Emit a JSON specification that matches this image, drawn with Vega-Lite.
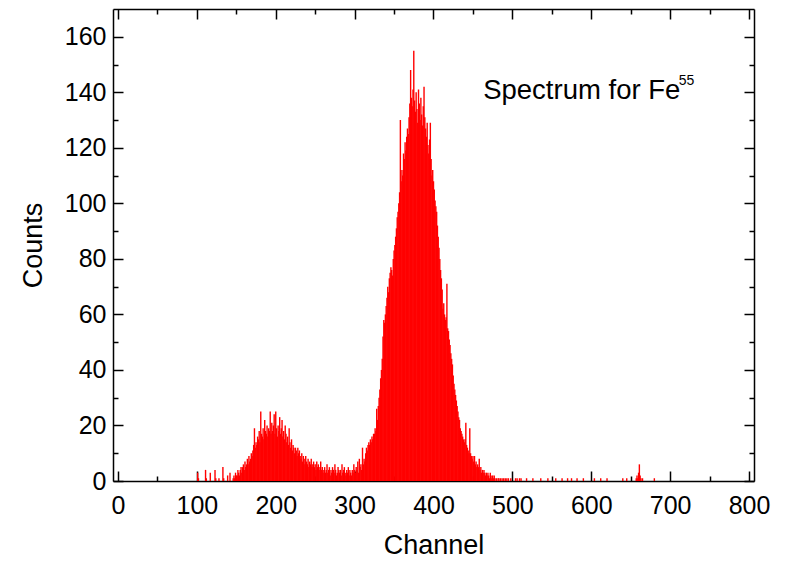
{
  "$schema": "https://vega.github.io/schema/vega-lite/v6.json",
  "width": 641,
  "height": 472,
  "autosize": "none",
  "padding": {"left": 113, "top": 9, "right": 36, "bottom": 83},
  "background": "white",
  "config": {
    "view": {"stroke": null},
    "font": "Liberation Sans",
    "axis": {
      "grid": false,
      "domainColor": "black",
      "domainWidth": 1.5,
      "tickColor": "black",
      "tickWidth": 1.5,
      "labelColor": "black",
      "labelFont": "Liberation Sans",
      "labelFontSize": 25,
      "titleFont": "Liberation Sans",
      "titleFontSize": 27,
      "titleFontWeight": "normal",
      "titleColor": "black"
    }
  },
  "datasets": {
    "spectrum": [
      {"c":101,"n":3},{"c":102,"n":1},{"c":111,"n":4},{"c":112,"n":1},{"c":117,"n":3},{"c":123,"n":4},{"c":124,"n":1},{"c":128,"n":1},{"c":133,"n":5},{"c":134,"n":1},{"c":139,"n":2},{"c":142,"n":3},
      {"c":146,"n":1},{"c":147,"n":2},{"c":148,"n":1},{"c":149,"n":3},{"c":150,"n":2},{"c":151,"n":2},{"c":152,"n":4},{"c":153,"n":3},{"c":154,"n":2},{"c":155,"n":4},{"c":156,"n":5},{"c":157,"n":3},{"c":158,"n":5},{"c":159,"n":6},{"c":160,"n":4},{"c":161,"n":7},{"c":162,"n":5},{"c":163,"n":6},{"c":164,"n":8},{"c":165,"n":6},{"c":166,"n":9},{"c":167,"n":7},{"c":168,"n":8},{"c":169,"n":10},{"c":170,"n":9},
      {"c":171,"n":11},{"c":172,"n":13},{"c":173,"n":19},{"c":174,"n":12},{"c":175,"n":14},{"c":176,"n":13},{"c":177,"n":16},{"c":178,"n":15},{"c":179,"n":18},{"c":180,"n":14},{"c":181,"n":25},{"c":182,"n":17},{"c":183,"n":16},{"c":184,"n":19},{"c":185,"n":15},{"c":186,"n":22},{"c":187,"n":18},{"c":188,"n":17},{"c":189,"n":20},{"c":190,"n":16},{"c":191,"n":19},{"c":192,"n":18},{"c":193,"n":25},{"c":194,"n":17},{"c":195,"n":21},{"c":196,"n":18},{"c":197,"n":20},{"c":198,"n":24},{"c":199,"n":17},{"c":200,"n":25},{"c":201,"n":19},{"c":202,"n":16},{"c":203,"n":20},{"c":204,"n":18},{"c":205,"n":23},{"c":206,"n":17},{"c":207,"n":19},{"c":208,"n":22},{"c":209,"n":16},{"c":210,"n":18},{"c":211,"n":15},{"c":212,"n":20},{"c":213,"n":17},{"c":214,"n":14},{"c":215,"n":16},{"c":216,"n":13},{"c":217,"n":19},{"c":218,"n":14},{"c":219,"n":12},{"c":220,"n":15},{"c":221,"n":11},{"c":222,"n":13},{"c":223,"n":12},{"c":224,"n":10},{"c":225,"n":12},{"c":226,"n":11},{"c":227,"n":9},{"c":228,"n":12},{"c":229,"n":10},{"c":230,"n":11},
      {"c":231,"n":9},{"c":232,"n":8},{"c":233,"n":10},{"c":234,"n":7},{"c":235,"n":9},{"c":236,"n":8},{"c":237,"n":6},{"c":238,"n":9},{"c":239,"n":7},{"c":240,"n":6},{"c":241,"n":8},{"c":242,"n":5},{"c":243,"n":7},{"c":244,"n":6},{"c":245,"n":8},{"c":246,"n":5},{"c":247,"n":6},{"c":248,"n":7},{"c":249,"n":5},{"c":250,"n":6},{"c":251,"n":4},{"c":252,"n":7},{"c":253,"n":5},{"c":254,"n":6},{"c":255,"n":4},{"c":256,"n":5},{"c":257,"n":7},{"c":258,"n":4},{"c":259,"n":5},{"c":260,"n":3},
      {"c":261,"n":4},{"c":262,"n":5},{"c":263,"n":3},{"c":264,"n":4},{"c":265,"n":6},{"c":266,"n":3},{"c":267,"n":4},{"c":268,"n":5},{"c":269,"n":2},{"c":270,"n":4},{"c":271,"n":3},{"c":272,"n":5},{"c":273,"n":4},{"c":274,"n":3},{"c":275,"n":6},{"c":276,"n":4},{"c":277,"n":2},{"c":278,"n":3},{"c":279,"n":5},{"c":280,"n":4},{"c":281,"n":3},{"c":282,"n":4},{"c":283,"n":2},{"c":284,"n":6},{"c":285,"n":3},{"c":286,"n":4},{"c":287,"n":5},{"c":288,"n":3},{"c":289,"n":2},{"c":290,"n":4},{"c":291,"n":3},{"c":292,"n":5},{"c":293,"n":2},{"c":294,"n":4},{"c":295,"n":3},{"c":296,"n":2},{"c":297,"n":4},{"c":298,"n":3},{"c":299,"n":6},{"c":300,"n":4},{"c":301,"n":3},{"c":302,"n":5},{"c":303,"n":4},{"c":304,"n":7},{"c":305,"n":3},
      {"c":306,"n":8},{"c":307,"n":5},{"c":308,"n":6},{"c":309,"n":4},{"c":310,"n":12},{"c":311,"n":6},{"c":312,"n":8},{"c":313,"n":7},{"c":314,"n":10},{"c":315,"n":12},{"c":316,"n":11},{"c":317,"n":13},{"c":318,"n":14},{"c":319,"n":13},{"c":320,"n":15},{"c":321,"n":14},{"c":322,"n":16},{"c":323,"n":15},{"c":324,"n":17},{"c":325,"n":17},{"c":326,"n":19},{"c":327,"n":18},{"c":328,"n":26},{"c":329,"n":22},{"c":330,"n":27},{"c":331,"n":30},{"c":332,"n":33},{"c":333,"n":37},{"c":334,"n":40},{"c":335,"n":44},{"c":336,"n":52},{"c":337,"n":58},{"c":338,"n":57},{"c":339,"n":60},{"c":340,"n":63},{"c":341,"n":66},{"c":342,"n":70},
      {"c":343,"n":68},{"c":344,"n":73},{"c":345,"n":75},{"c":346,"n":77},{"c":347,"n":76},{"c":348,"n":74},{"c":349,"n":80},{"c":350,"n":83},{"c":351,"n":85},{"c":352,"n":88},{"c":353,"n":91},{"c":354,"n":95},{"c":355,"n":97},{"c":356,"n":100},{"c":357,"n":104},{"c":358,"n":130},{"c":359,"n":108},{"c":360,"n":112},{"c":361,"n":110},{"c":362,"n":118},{"c":363,"n":116},{"c":364,"n":122},{"c":365,"n":119},{"c":366,"n":124},{"c":367,"n":127},{"c":368,"n":125},{"c":369,"n":131},{"c":370,"n":136},{"c":371,"n":148},{"c":372,"n":138},{"c":373,"n":135},{"c":374,"n":141},{"c":375,"n":155},{"c":376,"n":137},{"c":377,"n":133},{"c":378,"n":140},{"c":379,"n":134},{"c":380,"n":129},{"c":381,"n":141},{"c":382,"n":136},{"c":383,"n":130},{"c":384,"n":138},{"c":385,"n":132},{"c":386,"n":128},{"c":387,"n":135},{"c":388,"n":142},{"c":389,"n":131},{"c":390,"n":127},{"c":391,"n":124},{"c":392,"n":129},{"c":393,"n":121},{"c":394,"n":118},{"c":395,"n":123},{"c":396,"n":129},{"c":397,"n":116},{"c":398,"n":110},{"c":399,"n":112},{"c":400,"n":108},
      {"c":401,"n":105},{"c":402,"n":101},{"c":403,"n":99},{"c":404,"n":97},{"c":405,"n":92},{"c":406,"n":88},{"c":407,"n":84},{"c":408,"n":80},{"c":409,"n":76},{"c":410,"n":73},{"c":411,"n":69},{"c":412,"n":62},{"c":413,"n":64},{"c":414,"n":60},{"c":415,"n":58},{"c":416,"n":59},{"c":417,"n":71},{"c":418,"n":55},{"c":419,"n":54},{"c":420,"n":51},{"c":421,"n":49},{"c":422,"n":46},{"c":423,"n":44},{"c":424,"n":42},{"c":425,"n":38},{"c":426,"n":35},{"c":427,"n":33},{"c":428,"n":31},{"c":429,"n":29},{"c":430,"n":27},{"c":431,"n":25},{"c":432,"n":23},{"c":433,"n":22},{"c":434,"n":19},{"c":435,"n":18},{"c":436,"n":17},{"c":437,"n":16},{"c":438,"n":15},{"c":439,"n":14},{"c":440,"n":15},{"c":441,"n":21},{"c":442,"n":13},{"c":443,"n":12},{"c":444,"n":11},{"c":445,"n":10},{"c":446,"n":19},{"c":447,"n":10},{"c":448,"n":9},{"c":449,"n":8},{"c":450,"n":9},
      {"c":451,"n":7},{"c":452,"n":9},{"c":453,"n":6},{"c":454,"n":7},{"c":455,"n":5},{"c":456,"n":6},{"c":457,"n":5},{"c":458,"n":8},{"c":459,"n":4},{"c":460,"n":5},{"c":461,"n":3},{"c":462,"n":4},{"c":463,"n":3},{"c":464,"n":4},{"c":465,"n":3},{"c":466,"n":2},{"c":467,"n":3},{"c":468,"n":2},{"c":469,"n":3},{"c":470,"n":2},{"c":471,"n":1},{"c":472,"n":3},{"c":473,"n":2},{"c":474,"n":1},{"c":475,"n":2},{"c":476,"n":1},{"c":477,"n":2},{"c":478,"n":1},{"c":480,"n":1},{"c":482,"n":1},{"c":483,"n":1},{"c":485,"n":1},{"c":487,"n":1},{"c":489,"n":1},{"c":491,"n":1},{"c":493,"n":1},{"c":495,"n":1},{"c":498,"n":1},
      {"c":504,"n":1},{"c":506,"n":1},{"c":509,"n":1},{"c":511,"n":1},{"c":518,"n":1},{"c":526,"n":1},{"c":536,"n":1},{"c":545,"n":1},{"c":555,"n":1},{"c":563,"n":1},{"c":570,"n":1},{"c":575,"n":1},{"c":582,"n":1},{"c":590,"n":1},{"c":604,"n":1},{"c":612,"n":1},{"c":620,"n":1},{"c":640,"n":1},{"c":645,"n":1},{"c":657,"n":1},{"c":658,"n":2},{"c":659,"n":1},{"c":660,"n":3},{"c":661,"n":6},{"c":662,"n":2},{"c":663,"n":1},{"c":665,"n":1},{"c":680,"n":1}
    ],
    "label": [{"x": 463, "y": 137.5, "t": "Spectrum for Fe"}],
    "sup": [{"x": 711, "y": 142.5, "t": "55"}]
  },
  "layer": [
    {
      "data": {"name": "spectrum"},
      "mark": {"type": "bar", "color": "#ff0000", "width": 1.4},
      "encoding": {
        "x": {
          "field": "c", "type": "quantitative",
          "scale": {"domain": [0, 800], "nice": false, "zero": false},
          "axis": {
            "orient": "bottom",
            "title": "Channel",
            "values": [0,50,100,150,200,250,300,350,400,450,500,550,600,650,700,750,800],
            "labelExpr": "datum.value % 100 === 0 ? datum.label : ''",
            "tickSize": {"condition": {"test": "datum.value % 100 === 0", "value": -10}, "value": -5},
            "labelPadding": 22,
            "titlePadding": 9,
            "labelFlush": false,
            "labelOverlap": false
          }
        },
        "y": {
          "field": "n", "type": "quantitative",
          "scale": {"domain": [0, 170], "nice": false},
          "axis": {
            "orient": "left",
            "title": "Counts",
            "values": [0,10,20,30,40,50,60,70,80,90,100,110,120,130,140,150,160],
            "labelExpr": "datum.value % 20 === 0 ? datum.label : ''",
            "tickSize": {"condition": {"test": "datum.value % 20 === 0", "value": -10}, "value": -5},
            "labelPadding": 17,
            "titlePadding": 17,
            "labelFlush": false,
            "labelOverlap": false
          }
        }
      }
    },
    {
      "data": {"name": "spectrum"},
      "mark": {"type": "point", "opacity": 0},
      "encoding": {
        "x": {
          "field": "c", "type": "quantitative",
          "axis": {
            "orient": "top",
            "title": null,
            "labels": false,
            "values": [0,50,100,150,200,250,300,350,400,450,500,550,600,650,700,750,800],
            "tickSize": {"condition": {"test": "datum.value % 100 === 0", "value": -10}, "value": -5}
          }
        },
        "y": {
          "field": "n", "type": "quantitative",
          "axis": {
            "orient": "right",
            "title": null,
            "labels": false,
            "values": [0,10,20,30,40,50,60,70,80,90,100,110,120,130,140,150,160],
            "tickSize": {"condition": {"test": "datum.value % 20 === 0", "value": -10}, "value": -5}
          }
        }
      }
    },
    {
      "data": {"name": "label"},
      "mark": {"type": "text", "align": "left", "baseline": "alphabetic", "fontSize": 27.5, "font": "Liberation Sans", "color": "black"},
      "encoding": {
        "x": {"field": "x", "type": "quantitative", "axis": null},
        "y": {"field": "y", "type": "quantitative", "axis": null},
        "text": {"field": "t"}
      }
    },
    {
      "data": {"name": "sup"},
      "mark": {"type": "text", "align": "left", "baseline": "alphabetic", "fontSize": 14, "font": "Liberation Sans", "color": "black"},
      "encoding": {
        "x": {"field": "x", "type": "quantitative", "axis": null},
        "y": {"field": "y", "type": "quantitative", "axis": null},
        "text": {"field": "t"}
      }
    }
  ],
  "resolve": {"axis": {"x": "independent", "y": "independent"}}
}
